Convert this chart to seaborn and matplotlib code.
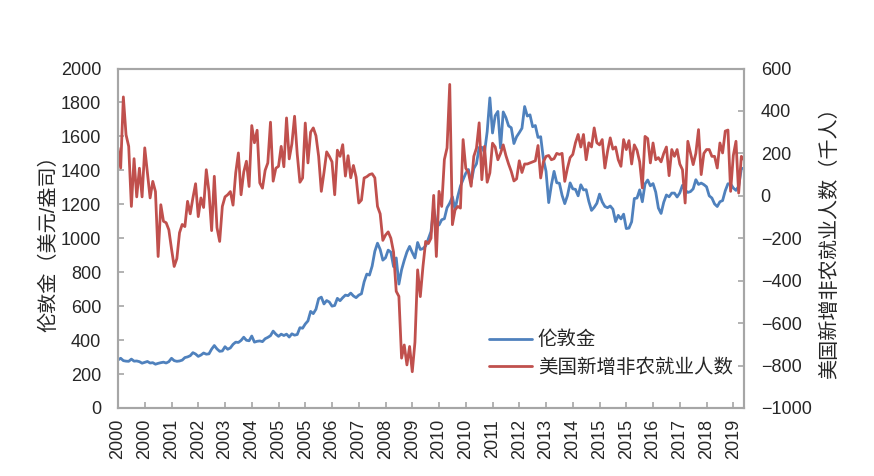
"""London gold price vs US nonfarm payroll changes, monthly 2000-2019."""

import matplotlib

matplotlib.use("Agg")
import matplotlib.pyplot as plt
import numpy as np
import pandas as pd
import seaborn as sns

# monthly, 2000-01 .. 2019-07
MONTHS = pd.date_range("2000-01-01", periods=235, freq="MS")

# London gold, USD/oz (month end)
GOLD = [
    283, 293, 279, 276, 275, 288, 276, 277, 273, 264, 269, 274,
    265, 267, 258, 263, 267, 270, 265, 273, 293, 279, 275, 277,
    282, 297, 301, 308, 326, 318, 304, 312, 324, 317, 319, 347,
    368, 348, 334, 336, 361, 346, 354, 375, 388, 386, 398, 417,
    399, 396, 424, 388, 393, 395, 391, 408, 416, 426, 453, 435,
    422, 435, 427, 435, 418, 437, 429, 433, 473, 470, 495, 513,
    569, 556, 582, 644, 653, 613, 633, 624, 600, 604, 646, 632,
    650, 665, 662, 677, 660, 650, 665, 673, 743, 789, 783, 836,
    923, 971, 934, 871, 885, 930, 918, 833, 884, 730, 814, 870,
    919, 952, 916, 884, 975, 934, 939, 955, 996, 1040, 1175, 1087,
    1078, 1109, 1115, 1180, 1207, 1244, 1169, 1246, 1307, 1346, 1383, 1405,
    1327, 1411, 1439, 1535, 1536, 1505, 1628, 1827, 1620, 1722, 1747, 1531,
    1744, 1711, 1662, 1651, 1558, 1598, 1622, 1648, 1776, 1720, 1727, 1657,
    1664, 1594, 1598, 1469, 1394, 1210, 1314, 1394, 1327, 1324, 1253, 1204,
    1251, 1326, 1291, 1288, 1250, 1315, 1285, 1286, 1217, 1164, 1182, 1206,
    1260, 1214, 1187, 1180, 1190, 1171, 1098, 1135, 1114, 1142, 1057, 1060,
    1097, 1234, 1237, 1285, 1215, 1320, 1343, 1309, 1322, 1272, 1178, 1146,
    1212, 1255, 1244, 1266, 1266, 1243, 1267, 1312, 1283, 1270, 1275, 1291,
    1345, 1317, 1325, 1316, 1303, 1250, 1237, 1202, 1187, 1215, 1222, 1280,
    1321, 1320, 1296, 1282, 1306, 1409, 1414,
]

# US nonfarm payroll change, thousands
NFP = [
    226, 131, 466, 288, 233, -50, 175, -5, 130, -5, 226, 110,
    -10, 68, 20, -286, -42, -120, -127, -160, -250, -333, -296, -174,
    -135, -145, -26, -85, -10, 57, -98, -10, -55, 123, 20, -164,
    92, -150, -215, -50, -5, 5, 20, -44, 108, 202, 5, 112,
    163, 44, 331, 250, 309, 61, 36, 120, 155, 347, 69, 130,
    139, 233, 137, 367, 174, 245, 375, 196, 64, 84, 343, 155,
    300, 320, 283, 186, 21, 110, 207, 186, 160, 5, 215, 186,
    241, 93, 189, 85, 143, 88, -34, -20, 84, 90, 100, 104,
    85, -50, -85, -210, -185, -170, -200, -265, -450, -474, -765, -703,
    -797, -710, -829, -690, -349, -475, -333, -215, -225, -200, 2, -286,
    21, -50, 171, 226, 525, -136, -66, -50, -58, 265, 130, 110,
    45, 186, 225, 344, 76, 233, 64, 108, 248, 230, 170, 200,
    240, 190, 150, 115, 70, 80, 165, 110, 150, 150, 155, 160,
    165, 237, 84, 160, 186, 190, 170, 175, 200, 195, 200, 68,
    130, 180, 195, 250, 289, 230, 289, 170, 250, 230, 320, 250,
    240, 265, 131, 210, 273, 220, 230, 170, 139, 265, 218, 260,
    150, 240, 215, 160, 37, 280, 270, 155, 249, 170, 180, 160,
    200, 230, 95, 218, 186, 218, 150, 123, -34, 257, 202, 147,
    200, 312, 100, 200, 218, 218, 186, 186, 131, 249, 202, 305,
    310, 21, 190, 257, 13, 186, 170,
]

GOLD_LABEL = "伦敦金"
NFP_LABEL = "美国新增非农就业人数"
BLUE = "#4F81BD"
RED = "#C0504D"
SPINE = "#A6A6A6"


def main() -> None:
    sns.set_theme(style="white")
    plt.rcParams["font.family"] = ["Liberation Sans", "Noto Sans CJK SC"]
    plt.rcParams["axes.unicode_minus"] = True

    df = pd.DataFrame({"pos": np.arange(len(MONTHS)), "gold": GOLD, "nfp": NFP})

    fig = plt.figure(figsize=(8.74, 4.76), dpi=100)
    ax = fig.add_axes([118 / 874, 1 - 408 / 476, 626 / 874, 339.5 / 476])
    ax2 = ax.twinx()

    sns.lineplot(data=df, x="pos", y="gold", color=BLUE, linewidth=2.0, ax=ax, label=GOLD_LABEL, legend=False)
    sns.lineplot(data=df, x="pos", y="nfp", color=RED, linewidth=2.0, ax=ax2, label=NFP_LABEL, legend=False)

    ax.set_xlim(0, len(MONTHS) - 1)
    ax.set_ylim(0, 2000)
    ax2.set_ylim(-1000, 600)
    ax.set_yticks(np.arange(0, 2001, 200))
    ax2.set_yticks(np.arange(-1000, 601, 200))

    tick_pos = np.arange(0, len(MONTHS), 10)
    ax.set_xticks(tick_pos)
    ax.set_xticklabels([str(MONTHS[i].year) for i in tick_pos], rotation=90)

    ax.set_xlabel("")
    ax.set_ylabel("伦敦金（美元/盎司）", fontsize=14.5, labelpad=2)
    ax2.set_ylabel("美国新增非农就业人数（千人）", fontsize=14.5, labelpad=6)

    for a in (ax, ax2):
        for s in a.spines.values():
            s.set_color(SPINE)
            s.set_linewidth(1.5)
        a.tick_params(direction="in", length=4, width=1.2, color=SPINE, labelsize=13, pad=12)
    ax.tick_params(axis="x", bottom=True, pad=8)
    ax.tick_params(axis="y", left=True, right=False)
    ax2.tick_params(axis="y", right=True, left=False)

    handles = ax.get_lines()[:1] + ax2.get_lines()[:1]
    ax.legend(
        handles,
        [GOLD_LABEL, NFP_LABEL],
        loc="center left",
        bbox_to_anchor=(0.565, 0.16),
        frameon=False,
        fontsize=14,
        handlelength=2.2,
        handletextpad=0.3,
        labelspacing=0.45,
    )

    fig.savefig("out.png", dpi=100)
    plt.close(fig)


if __name__ == "__main__":
    main()
